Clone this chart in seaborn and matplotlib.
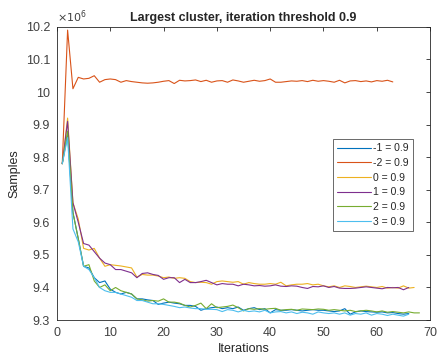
import numpy as np
import pandas as pd
import matplotlib
matplotlib.use("Agg")
import matplotlib.pyplot as plt
from matplotlib.ticker import FuncFormatter
import seaborn as sns

labels = ["-1 = 0.9", "-2 = 0.9", "0 = 0.9", "1 = 0.9", "2 = 0.9", "3 = 0.9"]
colors = ["#0072BD", "#D95319", "#EDB120", "#7E2F8E", "#77AC30", "#4DBEEE"]

s_m1 = [9.78, 9.87, 9.63, 9.55, 9.465, 9.46, 9.43, 9.415, 9.42, 9.395, 9.385, 9.38, 9.385, 9.38, 9.365, 9.365,
        9.362, 9.36, 9.348, 9.352, 9.355, 9.352, 9.35, 9.345, 9.345, 9.342, 9.33, 9.335, 9.338, 9.34, 9.335, 9.338,
        9.335, 9.34, 9.33, 9.335, 9.338, 9.332, 9.335, 9.322, 9.332, 9.33, 9.33, 9.332, 9.33, 9.328, 9.33, 9.332,
        9.33, 9.33, 9.328, 9.326, 9.328, 9.335, 9.318, 9.325, 9.328, 9.326, 9.325, 9.324, 9.325, 9.322, 9.323,
        9.32, 9.318, 9.32]
s_m2 = [9.78, 10.19, 10.01, 10.045, 10.04, 10.042, 10.05, 10.03, 10.038, 10.04, 10.038, 10.03, 10.035, 10.032,
        10.03, 10.028, 10.027, 10.028, 10.03, 10.033, 10.035, 10.026, 10.036, 10.034, 10.035, 10.037, 10.032,
        10.036, 10.03, 10.034, 10.035, 10.03, 10.037, 10.034, 10.03, 10.033, 10.036, 10.033, 10.035, 10.04, 10.03,
        10.03, 10.032, 10.034, 10.033, 10.035, 10.032, 10.036, 10.033, 10.035, 10.033, 10.03, 10.036, 10.028,
        10.034, 10.035, 10.032, 10.034, 10.031, 10.035, 10.033, 10.036, 10.031]
s_0 = [9.78, 9.92, 9.66, 9.61, 9.52, 9.515, 9.52, 9.49, 9.465, 9.47, 9.468, 9.466, 9.463, 9.46, 9.432, 9.44, 9.438,
       9.438, 9.435, 9.43, 9.432, 9.428, 9.43, 9.428, 9.418, 9.415, 9.416, 9.415, 9.41, 9.418, 9.42, 9.418, 9.416,
       9.418, 9.41, 9.415, 9.412, 9.41, 9.41, 9.412, 9.41, 9.416, 9.405, 9.408, 9.41, 9.41, 9.412, 9.408, 9.41,
       9.405, 9.402, 9.405, 9.4, 9.405, 9.403, 9.4, 9.402, 9.404, 9.402, 9.4, 9.403, 9.398, 9.4, 9.398, 9.405,
       9.398, 9.4]
s_1 = [9.78, 9.91, 9.66, 9.60, 9.535, 9.53, 9.51, 9.49, 9.475, 9.47, 9.455, 9.455, 9.45, 9.445, 9.43, 9.443, 9.445,
       9.44, 9.437, 9.425, 9.43, 9.43, 9.415, 9.425, 9.415, 9.415, 9.418, 9.422, 9.415, 9.408, 9.412, 9.41, 9.41,
       9.405, 9.41, 9.408, 9.405, 9.406, 9.404, 9.405, 9.408, 9.404, 9.403, 9.405, 9.404, 9.4, 9.397, 9.403,
       9.402, 9.405, 9.4, 9.403, 9.398, 9.397, 9.397, 9.398, 9.4, 9.402, 9.4, 9.398, 9.396, 9.4, 9.399, 9.4,
       9.393, 9.4]
s_2 = [9.78, 9.88, 9.63, 9.55, 9.465, 9.47, 9.42, 9.40, 9.408, 9.39, 9.40, 9.39, 9.385, 9.38, 9.365, 9.362, 9.358,
       9.36, 9.358, 9.365, 9.355, 9.355, 9.352, 9.345, 9.34, 9.345, 9.352, 9.335, 9.35, 9.338, 9.34, 9.342, 9.346,
       9.338, 9.328, 9.335, 9.333, 9.335, 9.333, 9.335, 9.336, 9.33, 9.332, 9.333, 9.33, 9.334, 9.333, 9.332,
       9.334, 9.333, 9.33, 9.332, 9.33, 9.328, 9.33, 9.326, 9.328, 9.33, 9.328, 9.325, 9.328, 9.324, 9.326,
       9.324, 9.322, 9.325, 9.322, 9.322]
s_3 = [9.78, 9.86, 9.58, 9.54, 9.465, 9.455, 9.43, 9.40, 9.39, 9.385, 9.385, 9.38, 9.375, 9.37, 9.36, 9.36, 9.355,
       9.35, 9.35, 9.348, 9.345, 9.342, 9.338, 9.34, 9.337, 9.335, 9.335, 9.333, 9.333, 9.332, 9.326, 9.332, 9.33,
       9.325, 9.33, 9.326, 9.328, 9.325, 9.33, 9.322, 9.325, 9.326, 9.322, 9.325, 9.32, 9.324, 9.322, 9.318,
       9.325, 9.322, 9.32, 9.322, 9.318, 9.322, 9.315, 9.32, 9.318, 9.322, 9.315, 9.32, 9.318, 9.314, 9.318,
       9.315, 9.312, 9.318]

series = [s_m1, s_m2, s_0, s_1, s_2, s_3]

frames = []
for lab, vals in zip(labels, series):
    frames.append(pd.DataFrame({"Iterations": np.arange(1, len(vals) + 1),
                                "Samples": np.array(vals) * 1e6,
                                "series": lab}))
df = pd.concat(frames, ignore_index=True)

sns.set_style("white")
plt.rcParams["font.family"] = ["Liberation Sans", "DejaVu Sans"]

fig = plt.figure(figsize=(4.38, 3.58), dpi=100)
ax = fig.add_axes([0.130, 0.106, 0.852, 0.819])

sns.lineplot(data=df, x="Iterations", y="Samples", hue="series", hue_order=labels,
             palette=dict(zip(labels, colors)), linewidth=0.8, ax=ax, legend=True)

ax.set_xlim(0, 70)
ax.set_ylim(9.3e6, 10.2e6)
ax.set_xticks(np.arange(0, 71, 10))
ax.set_yticks(np.arange(9.3e6, 10.21e6, 0.1e6))
ax.yaxis.set_major_formatter(FuncFormatter(lambda v, p: "%g" % round(v / 1e6, 3)))
ax.text(0.0, 1.008, r"$\times10^{6}$", transform=ax.transAxes, fontsize=8,
        color="#404040", ha="left", va="bottom")

ax.tick_params(direction="in", length=3, width=0.6, top=True, right=True, pad=5,
               labelsize=9, colors="#262626", labelcolor="#404040")
for sp in ax.spines.values():
    sp.set_color("#262626")
    sp.set_linewidth(0.6)

ax.set_xlabel("Iterations", fontsize=9, color="#262626", labelpad=3)
ax.set_ylabel("Samples", fontsize=9, color="#262626", labelpad=4)
ax.set_title("Largest cluster, iteration threshold 0.9", fontsize=9, fontweight="bold", pad=4)

leg = ax.legend(loc="upper right", bbox_to_anchor=(0.954, 0.617), fontsize=7.5, frameon=True,
                fancybox=False, edgecolor="#262626", handlelength=3.3, handletextpad=0.2,
                borderpad=0.4, labelspacing=0.45, borderaxespad=0)
leg.get_frame().set_linewidth(0.6)

fig.savefig("out.png", dpi=100)
